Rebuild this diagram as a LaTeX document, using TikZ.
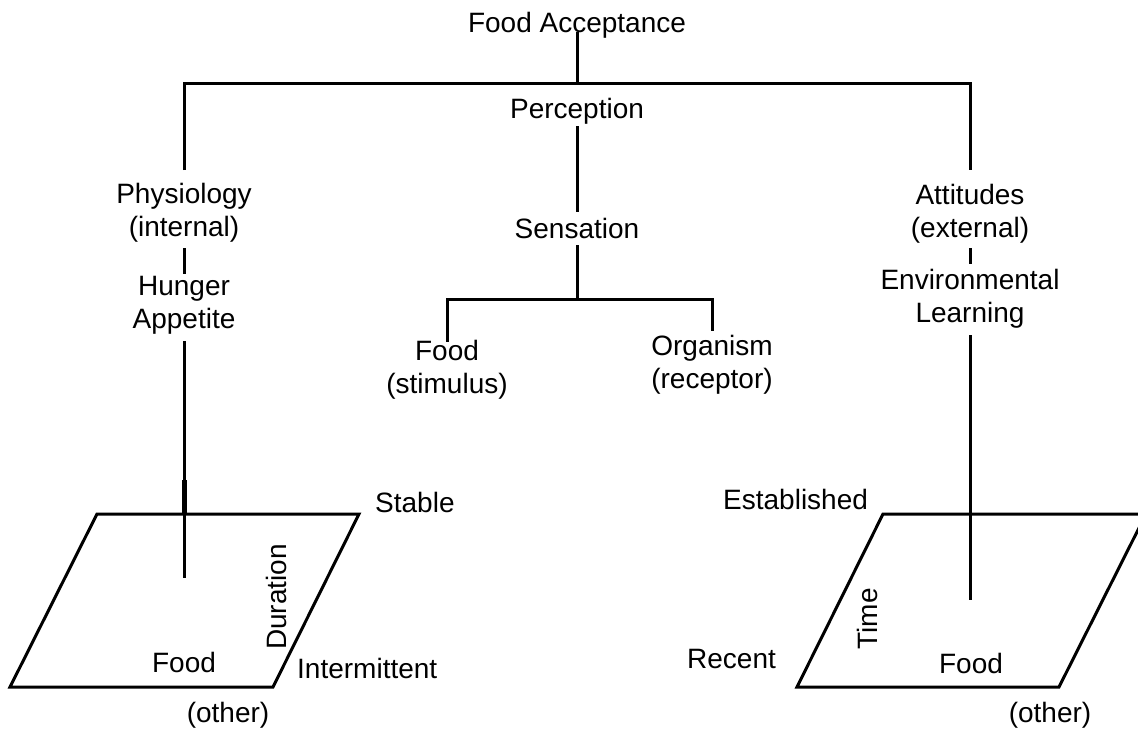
\documentclass[tikz,border=0pt]{standalone}
\usepackage{fontspec}
\setmainfont{Liberation Sans}
\begin{document}
\begin{tikzpicture}[x=1pt,y=-1pt,
  lbl/.style={inner sep=0pt, font=\fontsize{28}{33}\selectfont, align=center, anchor=base},
  lblw/.style={lbl, anchor=base west},
  link/.style={line width=3pt, line cap=butt},
  edge/.style={line width=3pt, line join=miter}]
\useasboundingbox (0,0) rectangle (1138,734);
\clip (0,0) rectangle (1138,734);

% --- tree labels (two-line labels sit on the baseline of their last line) ---
\node[lbl] (acc)  at (577,32)  {Food Acceptance};
\node[lbl] (perc) at (577,118) {Perception};
\node[lbl] (sens) at (577,238) {Sensation};
\node[lbl] (phys) at (184,236) {Physiology\\(internal)};
\node[lbl] (hung) at (184,328) {Hunger\\Appetite};
\node[lbl] (att)  at (970,237) {Attitudes\\(external)};
\node[lbl] (env)  at (970,322) {Environmental\\Learning};
\node[lbl] (fst)  at (447,393) {Food\\(stimulus)};
\node[lbl] (org)  at (712,388) {Organism\\(receptor)};

% junction points
\coordinate (jt) at (577,83);
\coordinate (jm) at (577,299);
\coordinate (hend) at (184,578);
\coordinate (eend) at (970,600);
\coordinate (ka) at (184,480);
\coordinate (kb) at (184,514);

% --- tree connectors ---
\draw[link] (acc.base) -- (jt);
\draw[link, shorten <=12.5pt, shorten >=13.5pt]
  (phys.north) -- (phys.north |- jt) -- (att.north |- jt) -- (att.north);
\draw[link, shorten <=2pt, shorten >=5.6pt] (perc.south) -- (sens.north);
\draw[link, shorten <=7pt] (sens.south) -- (jm);
\draw[link, shorten <=-2pt, shorten >=3.5pt]
  (fst.north) -- (fst.north |- jm) -- (org.north |- jm) -- (org.north);
\draw[link, shorten <=6pt, shorten >=1.6pt] (phys.south) -- (hung.north);
\draw[link, shorten <=5pt, shorten >=5pt] (att.south) -- (env.north);

% --- food planes ---
\draw[edge] (97,514) -- (359,514) -- (273,687) -- (10,687) -- cycle;
\draw[edge] (883,514) -- (1146,514) -- (1059,687) -- (797,687) -- cycle;

\draw[link, shorten <=7pt] (hung.south) -- (hend);
\draw[line width=5pt] (ka) -- (kb);
\draw[link, shorten <=7pt] (env.south) -- (eend);

% --- plane labels ---
\node[lblw] (stab) at (375,512) {Stable};
\node[lblw] (inter) at (297,678) {Intermittent};
\node[lbl] (fl) at (184,672) {Food};
\node[lbl] (ol) at (228,722) {(other)};
\node[lbl, rotate=90] (dur) at (286,597) {Duration};

\node[lblw] (est) at (723,509) {Established};
\node[lblw] (rec) at (687,668) {Recent};
\node[lbl] (fr) at (971,673) {Food};
\node[lbl] (orr) at (1050,722) {(other)};
\node[lbl, rotate=90] (tim) at (877,619) {Time};
\end{tikzpicture}
\end{document}
